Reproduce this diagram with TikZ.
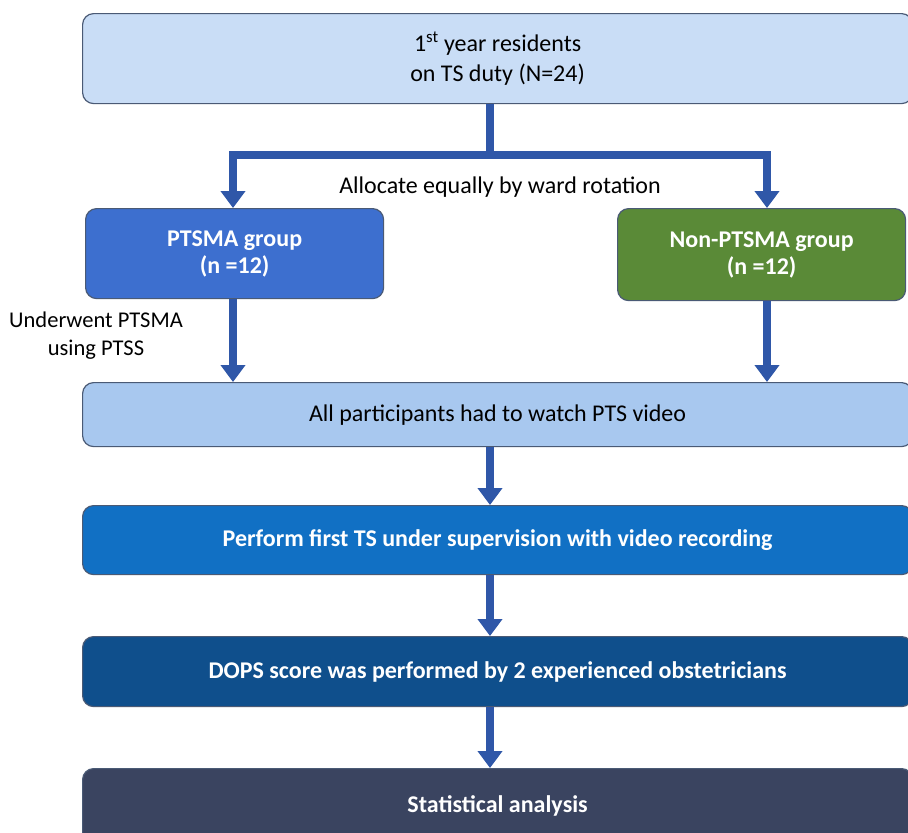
\documentclass[tikz,border=0pt]{standalone}
\usepackage{fontspec}
\setmainfont{Carlito}
\usetikzlibrary{arrows.meta,calc}
\definecolor{topfill}{HTML}{C9DDF6}
\definecolor{allfill}{HTML}{A8C8EF}
\definecolor{ptsmafill}{HTML}{3D6FCF}
\definecolor{nonfill}{HTML}{5A8A37}
\definecolor{perffill}{HTML}{1170C4}
\definecolor{dopsfill}{HTML}{0F4F8C}
\definecolor{statfill}{HTML}{3A4460}
\definecolor{arrowc}{HTML}{2F57A8}
\definecolor{edgec}{HTML}{4A5A75}
\begin{document}
\begin{tikzpicture}[x=1pt,y=-1pt,
  box/.style={draw=edgec, line width=1.2pt, rounded corners=11pt, inner sep=0pt, anchor=north west, font=\fontsize{24}{27}\selectfont, align=center},
  flowarrow/.style={draw=arrowc, line width=7.5pt, -{Triangle[width=24pt,length=17pt]}, fill=arrowc},
  bar/.style={draw=arrowc, line width=8pt},
  lbl/.style={font=\fontsize{24}{28}\selectfont, align=center, inner sep=0pt}
]
\useasboundingbox (0,0) rectangle (908,833);
\clip (0,0) rectangle (908,833);
\fill[white] (0,0) rectangle (908,833);

\node[box, fill=topfill, minimum width=830pt, minimum height=90pt, text=black,
      font=\fontsize{24}{30}\selectfont] (top) at (82,13) {1\textsuperscript{st} year residents\\on TS duty (N=24)};
\node[box, fill=ptsmafill, minimum width=298pt, minimum height=90pt, text=white] (ptsma) at (85,208) {\bfseries PTSMA group\\\bfseries (n =12)};
\node[box, fill=nonfill, minimum width=288pt, minimum height=92pt, text=white] (non) at (617,208) {\bfseries Non-PTSMA group\\\bfseries (n =12)};
\node[box, fill=allfill, minimum width=830pt, minimum height=64pt, text=black] (all) at (82,382) {All participants had to watch PTS video};
\node[box, fill=perffill, minimum width=830pt, minimum height=69pt, text=white] (perf) at (82,505) {\bfseries Perform first TS under supervision with video recording};
\node[box, fill=dopsfill, minimum width=830pt, minimum height=70pt, text=white] (dops) at (82,636) {\bfseries DOPS score was performed by 2 experienced obstetricians};
\node[box, fill=statfill, minimum width=830pt, minimum height=75pt, text=white] (stat) at (82,768) {\bfseries Statistical analysis};

\coordinate (midx) at (490,0);
\coordinate (split) at (490,155);
\coordinate (barL) at (233,155);
\coordinate (barR) at (767,155);

\draw[bar] (top.south -| split) -- (split);
\draw[bar] ($(barL)+(-4,0)$) -- ($(barR)+(4,0)$);
\draw[flowarrow] ($(barL)+(0,-4)$) -- (barL |- ptsma.north);
\draw[flowarrow] ($(barR)+(0,-4)$) -- (barR |- non.north);

\node[lbl] (alloc) at (500,187) {Allocate equally by ward rotation};

\draw[flowarrow] (ptsma.south -| barL) -- (barL |- all.north);
\draw[flowarrow] (non.south -| barR) -- (barR |- all.north);
\node[lbl, font=\fontsize{22.5}{28}\selectfont] (under) at (96,336) {Underwent PTSMA\\using PTSS};

\draw[flowarrow] (all.south -| midx) -- (perf.north -| midx);
\draw[flowarrow] (perf.south -| midx) -- (dops.north -| midx);
\draw[flowarrow] (dops.south -| midx) -- (stat.north -| midx);
\end{tikzpicture}
\end{document}
